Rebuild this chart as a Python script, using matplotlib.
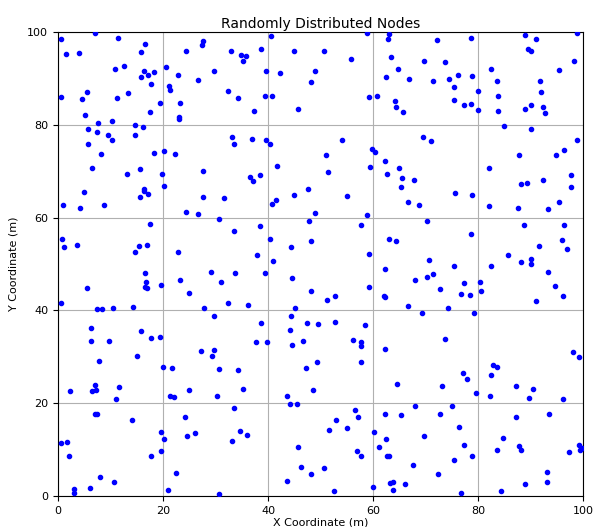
import matplotlib
matplotlib.use("Agg")
import matplotlib.pyplot as plt

# Node coordinates (m)
x_nodes = [
    7.0, 0.6, 11.4, 16.6, 1.5, 4.0, 15.9, 24.3, 10.9, 12.5, 16.3, 18.3, 17.1, 15.9, 20.6, 22.9,
    17.8, 21.1, 21.4, 5.5, 13.3, 0.6, 4.6, 11.2, 19.5, 23.3, 5.2, 17.5, 23.0, 23.0, 7.6, 10.3,
    14.7, 5.8, 7.5, 16.1, 9.5, 10.2, 14.7, 5.8, 8.1, 18.2, 20.2, 22.2, 6.5, 13.1, 15.6, 19.9, 20.2,
    40.6, 27.7, 27.4, 33.0, 34.8, 35.9, 38.7, 35.2, 44.9, 29.8, 39.7, 42.3, 49.0, 26.7, 48.1,
    32.4, 34.2, 39.5, 40.8, 37.4, 45.7, 33.2, 33.6, 37.0, 39.7, 40.4, 27.6, 41.8, 36.6, 37.1, 38.5,
    58.9, 63.0, 62.9, 72.2, 50.7, 55.9, 63.5, 69.8, 73.7, 64.8, 62.5, 66.9, 71.4, 74.5, 75.4,
    59.3, 60.8, 75.4, 64.2, 64.4, 65.8, 54.0, 69.5, 71.1, 51.0, 59.8, 60.4, 62.2, 51.4, 59.4,
    65.0, 62.7, 65.6, 67.9, 65.3,
    78.7, 89.0, 91.0, 98.9, 89.5, 90.0, 98.3, 82.4, 95.4, 76.1, 78.9, 83.6, 91.8, 80.0, 92.0,
    83.8, 77.4, 78.7, 80.0, 83.8, 89.0, 90.0, 92.4, 92.7, 84.9, 90.0, 98.9, 96.4, 87.8, 94.9,
    82.0, 97.7, 92.3, 88.1, 89.3, 97.8,
    4.9, 16.3, 16.4, 17.1, 15.6, 1.0, 4.2, 8.8, 24.4, 17.5, 0.8, 1.2, 3.6, 15.4, 16.9, 14.7,
    22.9, 16.6, 16.7, 23.3, 16.5, 17.0, 19.6, 5.5, 25.0, 0.5, 7.4, 8.3, 10.4, 14.3, 6.3, 15.9,
    19.4, 17.7, 6.2, 9.7,
    27.6, 31.7, 26.7, 40.7, 41.5, 45.0, 47.6, 49.0, 30.6, 38.5, 33.5, 47.9, 48.1, 40.4, 44.4,
    37.9, 41.0, 29.1, 33.7, 39.4, 31.0, 44.5, 48.1, 32.3, 36.1, 27.8, 45.1, 29.7, 44.3, 38.7,
    47.4, 49.5, 44.1, 37.7, 39.9, 46.6,
    55.0, 66.6, 68.7, 75.6, 58.8, 57.7, 70.3, 63.0, 64.3, 59.3, 70.6, 75.4, 62.3, 71.4, 70.3,
    68.0, 72.7, 59.2, 52.8, 51.2, 62.0, 62.3, 66.7, 74.2, 69.4, 52.8, 58.4, 56.2, 57.8, 73.7,
    78.9, 82.0, 87.6, 93.3, 95.4, 88.8, 96.3, 78.7, 96.0, 97.0, 91.6, 85.8, 90.0, 88.2, 90.0,
    82.4, 93.3, 77.4, 80.3, 94.7, 76.8, 78.4, 80.5, 91.0, 96.1, 79.2,
    7.8, 15.1, 20.0, 21.7, 2.3, 7.1, 6.5, 7.3, 11.7, 11.0, 21.3, 22.1, 25.0, 7.1, 7.5, 14.0,
    24.2, 0.5, 1.8, 19.6, 20.2, 24.6, 2.1, 17.8, 19.6, 22.5, 8.0, 10.7, 6.0, 3.1, 3.1, 21.0,
    44.5, 27.2, 29.7, 29.3, 49.3, 30.7, 34.3, 47.3, 30.2, 35.2, 48.6, 43.7, 44.1, 45.6, 33.5,
    26.0, 34.7, 36.0, 33.2, 45.8, 46.2, 48.2, 43.6, 30.6,
    57.8, 62.2, 57.8, 64.6, 73.1, 68.0, 75.1, 56.5, 57.1, 62.2, 65.3, 72.7, 53.0, 55.0, 51.7,
    60.2, 62.5, 69.7, 61.2, 57.0, 57.7, 62.7, 63.0, 75.4, 67.6, 72.4, 50.7, 60.0, 63.2, 63.9,
    66.0, 63.8, 52.5,
    98.0, 99.2, 82.9, 83.6, 77.2, 77.9, 82.4, 87.2, 90.5, 79.7, 82.2, 89.7, 96.2, 87.2, 93.6,
    76.3, 84.7, 77.4, 87.9, 88.1, 83.6, 78.9, 97.3, 99.2, 99.4, 99.8, 93.1, 93.1, 89.0, 84.4,
    76.8,
]
y_nodes = [
    99.8, 98.4, 98.7, 97.4, 95.3, 95.5, 95.6, 96.0, 92.0, 92.7, 91.7, 91.4, 90.7, 90.4, 92.5, 90.8,
    88.8, 88.3, 87.4, 87.1, 86.9, 85.9, 85.6, 85.7, 84.8, 84.6, 82.1, 82.8, 81.6, 81.3, 80.4, 80.8,
    80.0, 79.0, 78.5, 79.5, 77.7, 76.7, 77.7, 75.8, 73.6, 73.9, 74.3, 73.7, 70.6, 69.5, 70.4, 69.5, 66.9,
    99.2, 98.1, 97.3, 95.8, 95.0, 94.8, 96.4, 93.7, 96.0, 91.7, 91.5, 91.1, 91.5, 89.6, 89.3,
    87.2, 85.7, 86.1, 86.3, 82.9, 83.5, 77.3, 75.8, 76.9, 76.7, 75.9, 70.1, 71.1, 68.8, 67.8, 69.2,
    99.7, 99.6, 98.5, 98.2, 95.9, 94.2, 94.6, 93.7, 93.5, 92.0, 90.2, 89.9, 89.5, 89.9, 88.1,
    86.0, 86.2, 85.3, 85.1, 83.8, 82.8, 76.7, 77.4, 76.6, 73.5, 74.8, 74.1, 72.3, 69.9, 70.8,
    70.7, 69.3, 68.6, 68.0, 66.7,
    98.7, 99.4, 98.5, 99.7, 96.3, 95.8, 93.8, 92.0, 91.9, 90.7, 90.6, 89.4, 89.5, 87.2, 87.0,
    86.1, 84.3, 84.4, 83.2, 83.0, 83.5, 84.3, 83.9, 82.5, 79.8, 79.1, 76.8, 74.6, 73.4, 73.4,
    70.6, 69.2, 68.0, 67.2, 67.4, 66.7,
    65.5, 66.1, 65.7, 65.0, 64.4, 62.8, 62.0, 62.8, 61.3, 58.6, 55.3, 53.7, 54.2, 53.8, 54.0, 52.5,
    52.5, 48.1, 46.1, 46.5, 45.0, 44.8, 45.4, 44.8, 43.8, 41.7, 40.4, 40.4, 40.5, 40.7, 36.3, 35.5,
    34.3, 34.1, 33.4, 33.4,
    64.5, 64.2, 60.8, 62.9, 63.9, 64.9, 66.1, 61.0, 59.6, 58.1, 57.1, 59.2, 55.0, 55.3, 53.7,
    51.9, 50.7, 48.3, 48.1, 48.1, 46.2, 47.0, 44.2, 41.5, 41.2, 40.5, 40.5, 38.7, 38.9, 37.3,
    37.3, 37.1, 35.7, 33.1, 33.1, 33.5,
    64.7, 63.3, 62.8, 65.2, 60.5, 58.3, 59.3, 55.3, 55.0, 52.1, 50.8, 49.6, 49.0, 47.8, 47.3,
    46.6, 44.6, 45.0, 43.0, 42.2, 43.0, 42.8, 40.9, 40.5, 39.4, 37.4, 36.8, 33.6, 33.1, 33.8,
    64.9, 62.4, 62.0, 61.9, 63.4, 58.4, 58.3, 56.5, 55.1, 53.2, 53.9, 51.9, 51.1, 50.4, 49.9,
    49.6, 48.3, 45.8, 46.2, 45.3, 43.5, 43.3, 44.1, 42.1, 43.2, 39.4,
    29.1, 30.1, 27.9, 27.5, 22.6, 23.9, 22.6, 22.8, 23.4, 20.8, 21.5, 21.3, 22.8, 17.6, 17.6, 16.4,
    17.1, 11.4, 11.6, 13.9, 12.2, 12.9, 8.7, 8.7, 9.6, 4.9, 4.2, 3.0, 1.8, 1.6, 0.7, 1.3,
    32.5, 31.3, 31.4, 30.2, 28.8, 27.3, 27.2, 27.5, 21.5, 23.0, 22.8, 21.5, 19.9, 19.9, 19.0,
    13.5, 14.0, 13.2, 11.9, 10.6, 6.3, 4.7, 3.3, 0.4,
    32.3, 31.7, 28.8, 24.1, 23.6, 19.5, 19.4, 18.5, 17.0, 17.7, 17.4, 17.7, 16.3, 14.7, 14.2,
    13.9, 12.2, 12.9, 10.5, 9.8, 8.6, 8.6, 8.6, 7.7, 6.7, 4.7, 6.0, 2.0, 2.8, 3.1,
    2.5, 1.4, 1.0,
    31.1, 30.0, 28.2, 27.8, 26.6, 25.2, 26.1, 23.8, 23.0, 22.3, 21.6, 21.1, 20.8, 17.0, 17.7,
    14.9, 12.4, 10.9, 10.8, 10.0, 10.0, 8.7, 9.5, 10.9, 10.0, 10.3, 5.2, 3.0, 2.5, 1.1,
    0.6,
]

x_ticks = [0, 20, 40, 60, 80, 100]
y_ticks = [0, 20, 40, 60, 80, 100]

fig = plt.figure(figsize=(5.95, 5.27), dpi=100)
ax = fig.add_axes([58 / 595, 1 - 496 / 527, 525 / 595, 464 / 527])
ax.scatter(x_nodes, y_nodes, s=9, color="blue", zorder=3)
ax.set_xlim(0, 100)
ax.set_ylim(0, 100)
ax.set_xticks(x_ticks)
ax.set_yticks(y_ticks)
ax.tick_params(labelsize=8)
ax.grid(True, color="#b0b0b0", linewidth=0.8)
ax.set_title("Randomly Distributed Nodes", fontsize=10, pad=3)
ax.set_xlabel("X Coordinate (m)", fontsize=8, labelpad=1)
ax.set_ylabel("Y Coordinate (m)", fontsize=8, labelpad=6)
fig.savefig("out.png", dpi=100)
